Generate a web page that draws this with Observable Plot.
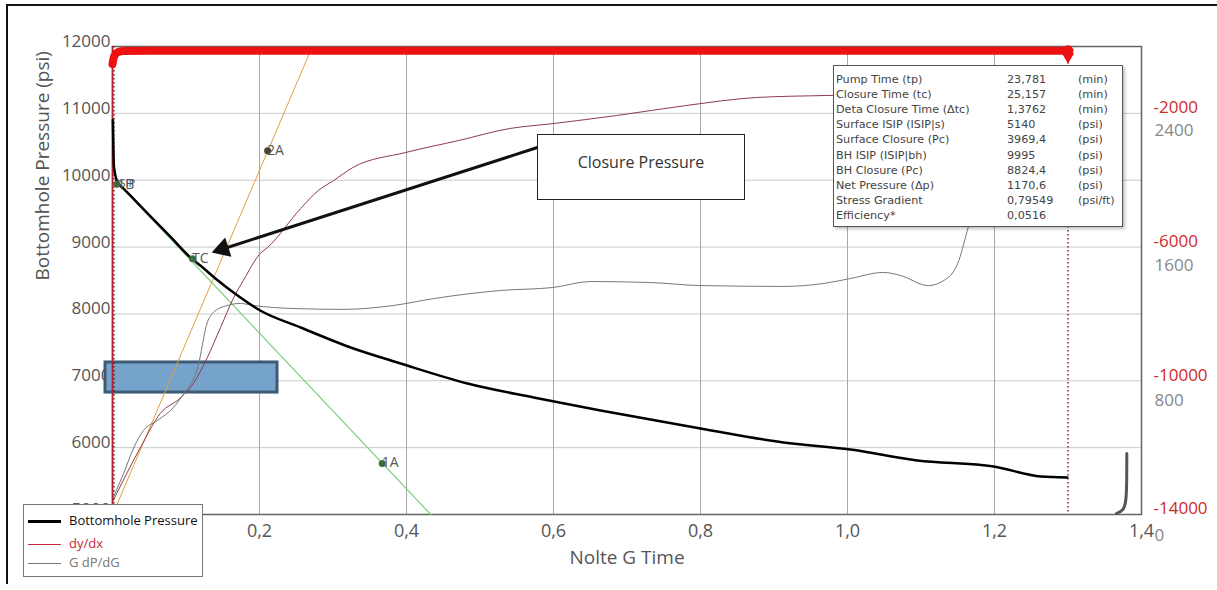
<!DOCTYPE html>
<html>
<head>
<meta charset="utf-8">
<script src="https://cdn.jsdelivr.net/npm/d3@7"></script>
<script src="https://cdn.jsdelivr.net/npm/@observablehq/plot@0.6"></script>
<style>
  body { margin: 0; background: #fff; }
  #wrap { position: relative; width: 1217px; height: 590px; overflow: hidden; font-family: "Open Sans", sans-serif; }
  #outer { position: absolute; left: 6px; top: 4px; width: 1240px; height: 578px; border-left: 2px solid #111; border-top: 2px solid #111; pointer-events: none; }
  #chart { position: absolute; left: 0; top: 0; }
  #legend { position: absolute; left: 23px; top: 504px; width: 180px; height: 73px; background: #fff; border: 1px solid #777; box-sizing: border-box; font-size: 13px; }
  #legend .sw { position: absolute; left: 4px; width: 33px; height: 0; }
  #legend .lt { position: absolute; left: 45px; line-height: 16px; white-space: nowrap; }
  #info { position: absolute; left: 833px; top: 65px; width: 290px; height: 162px; background: #fff; border: 1px solid #555; box-sizing: border-box; box-shadow: 2px 2px 3px rgba(0,0,0,0.25); font-family: "DejaVu Sans", sans-serif; font-size: 11.2px; color: #444; }
  #info .c { position: absolute; white-space: nowrap; line-height: 15px; }
  #closure { position: absolute; left: 537px; top: 134px; width: 208px; height: 66px; background: #fff; border: 1.5px solid #222; box-sizing: border-box; font-size: 16px; color: #333; text-align: center; }
  #closure span { position: absolute; left: 0; right: 0; top: 16px; line-height: 22px; }
</style>
</head>
<body>
<div id="wrap">
  <div id="chart"></div>
  <div id="outer"></div>
  <div id="closure"><span>Closure Pressure</span></div>
  <div id="info"></div>
  <div id="legend"></div>
</div>
<script>
// ---------- data ----------
// Bottomhole pressure (psi) vs Nolte G time
const bhpG = [0.0005, 0.002, 0.007, 0.015, 0.030, 0.052, 0.080, 0.106, 0.120, 0.140, 0.174, 0.201, 0.256, 0.324, 0.392, 0.483, 0.573, 0.664, 0.800, 0.913, 1.004, 1.095, 1.199, 1.263, 1.299];
const bhpP = [10900, 10200, 9966, 9876, 9706, 9457, 9140, 8844, 8720, 8530, 8246, 8051, 7797, 7498, 7259, 6960, 6750, 6556, 6286, 6077, 5972, 5808, 5718, 5568, 5553];

// dP/dG-type curve (maroon), left-axis units
const dpG = [0.001, 0.038, 0.065, 0.093, 0.110, 0.129, 0.147, 0.165, 0.178, 0.201, 0.211, 0.256, 0.280, 0.301, 0.327, 0.399, 0.471, 0.541, 0.600, 0.686, 0.781, 0.876, 0.971, 1.10];
const dpP = [5210, 6002, 6511, 6750, 6959, 7348, 7797, 8246, 8500, 8904, 8994, 9577, 9846, 9996, 10190, 10415, 10594, 10774, 10848, 10968, 11118, 11237, 11267, 11290];

// G dP/dG (gray right axis units)
const gdpG = [0.001, 0.015, 0.029, 0.042, 0.061, 0.083, 0.097, 0.116, 0.129, 0.137, 0.156, 0.174, 0.192, 0.246, 0.314, 0.382, 0.437, 0.528, 0.600, 0.650, 0.732, 0.800, 0.913, 0.967, 1.004, 1.049, 1.072, 1.110, 1.131, 1.150, 1.163, 1.181, 1.201];
const gdpV = [225, 367, 521, 622, 681, 759, 841, 996, 1262, 1321, 1363, 1375, 1363, 1345, 1340, 1363, 1404, 1452, 1470, 1505, 1499, 1481, 1476, 1493, 1523, 1559, 1541, 1481, 1511, 1612, 1807, 2104, 2400];

// dy/dx (red right axis units)
const dydxG = [0, 0.0015, 0.004, 0.008, 0.015, 0.05, 0.4, 0.8, 1.2, 1.30];
const dydxV = [-700, -520, -400, -335, -305, -300, -300, -300, -300, -300];

// straight-line fits
const fit1G = [0.004, 0.433];   const fit1P = [9995, 5000];    // green (1A)
const fit2G = [0.001, 0.268];   const fit2P = [5017, 11900];   // orange (2A)

// picked points
const ptName = ["ISIP", "1B", "TC", "2A", "1A", "2P"];
const ptG    = [0.006, 0.007, 0.109, 0.211, 0.367, 0.001];
const ptP    = [9940, 9930, 8824, 10440, 5763, 5017];

// markers / annotations
const closureLines = [0.002, 1.30];
const boxG = [-0.0095, 0.2245];  const boxP = [6824, 7274];
const arrowG = [0.578, 0.150];   const arrowP = [10489, 8971];
const edgeG = [1.380, 1.380, 1.375, 1.366]; const edgeP = [5913, 5180, 5060, 5015];

// axis ticks
const xTicks = [0.2, 0.4, 0.6, 0.8, 1.0, 1.2, 1.4];
const yTicks = [5000, 6000, 7000, 8000, 9000, 10000, 11000, 12000];
const redTicks = [-2000, -6000, -10000, -14000];
const grayTicks = [0, 800, 1600, 2400];

// info table
const infoLabel = ["Pump Time (tp)", "Closure Time (tc)", "Deta Closure Time (\u0394tc)", "Surface ISIP (ISIP|s)", "Surface Closure (Pc)", "BH ISIP (ISIP|bh)", "BH Closure (Pc)", "Net Pressure (\u0394p)", "Stress Gradient", "Efficiency*"];
const infoValue = ["23,781", "25,157", "1,3762", "5140", "3969,4", "9995", "8824,4", "1170,6", "0,79549", "0,0516"];
const infoUnit  = ["(min)", "(min)", "(min)", "(psi)", "(psi)", "(psi)", "(psi)", "(psi)", "(psi/ft)", ""];

// legend
const legendNames  = ["Bottomhole Pressure", "dy/dx", "G dP/dG"];
const legendColors = ["#000", "#c8283a", "#777"];

// ---------- secondary axis mappings (to left-axis units) ----------
const redToP = v => 12085 + 0.5 * v;
const grayToP = g => 4686 + 2.524 * g;

const zip = (a, b) => a.map((v, i) => ({x: v, y: b[i]}));
const bhp = zip(bhpG, bhpP);
const dp = zip(dpG, dpP);
const gdp = gdpG.map((g, i) => ({x: g, y: grayToP(gdpV[i])}));
const dydx = dydxG.map((g, i) => ({x: g, y: redToP(dydxV[i])}));
const fit1 = zip(fit1G, fit1P);
const fit2 = zip(fit2G, fit2P);
const pts = ptName.map((n, i) => ({name: n, x: ptG[i], y: ptP[i]}));
const arrow = zip(arrowG, arrowP);
const edge = zip(edgeG, edgeP);
const fmtX = d => d.toFixed(1).replace(".", ",");

const font = "Open Sans";
const plot = Plot.plot({
  width: 1217,
  height: 590,
  marginLeft: 112,
  marginRight: 76,
  marginTop: 46,
  marginBottom: 76,
  style: {fontFamily: font, background: "transparent"},
  x: {domain: [0, 1.4]},
  y: {domain: [5000, 12000]},
  marks: [
    Plot.gridY(yTicks, {stroke: "#c9c9c9", strokeOpacity: 1}),
    Plot.gridX([0.2, 0.4, 0.6, 0.8, 1.0, 1.2], {stroke: "#a8a8a8", strokeOpacity: 1}),
    Plot.axisY({ticks: yTicks, tickFormat: d => String(d), tickSize: 0, tickPadding: 2, fontSize: 17, color: "#555", label: null, dy: -5}),
    Plot.axisX({ticks: xTicks, tickFormat: fmtX, tickSize: 0, tickPadding: 10, fontSize: 18, color: "#555", label: null}),
    Plot.rect([0], {x1: boxG[0], x2: boxG[1], y1: boxP[0], y2: boxP[1], fill: "#75a3cb", stroke: "#3e5b75", strokeWidth: 3}),
    Plot.frame({stroke: "#666", strokeWidth: 1.5}),
    Plot.line(edge, {x: "x", y: "y", stroke: "#555", strokeWidth: 3, curve: "basis"}),
    Plot.ruleX([0], {stroke: "#b0202e", strokeWidth: 1.5}),
    Plot.ruleX(closureLines, {stroke: "#5a1010", strokeWidth: 1.3, strokeDasharray: "1.5,2.5"}),
    Plot.line(fit2, {x: "x", y: "y", stroke: "#e0a040", strokeWidth: 1}),
    Plot.line(fit1, {x: "x", y: "y", stroke: "#7fcf7f", strokeWidth: 1.2}),
    Plot.line(dp, {x: "x", y: "y", stroke: "#8e3a4a", strokeWidth: 1, curve: "monotone-x"}),
    Plot.line(gdp, {x: "x", y: "y", stroke: "#777", strokeWidth: 1, curve: "monotone-x"}),
    Plot.line(bhp, {x: "x", y: "y", stroke: "#000", strokeWidth: 2.5, curve: "monotone-x"}),
    Plot.line(dydx, {x: "x", y: "y", stroke: "#ee1111", strokeWidth: 8, curve: "monotone-x"}),
    Plot.dot([dydx[dydx.length - 1]], {x: "x", y: "y", r: 5.5, fill: "#ee1111"}),
    Plot.dot([dydx[dydx.length - 1]], {x: "x", y: "y", r: 4.5, fill: "#ee1111", symbol: "triangle", rotate: 180, dy: 6}),
    Plot.dot(pts.filter(d => d.name !== "1B"), {x: "x", y: "y", r: 3.5, fill: d => d.name === "2A" || d.name === "2P" ? "#4a4636" : "#3d6b3d"}),
    Plot.text(pts, {x: "x", y: "y", text: "name", textAnchor: "start", dx: d => d.name === "ISIP" ? 5 : 6, dy: d => d.name === "ISIP" ? -4 : 6, fontSize: d => d.name === "ISIP" ? 11 : 14, fill: "#555"}),
    Plot.line(arrow, {x: "x", y: "y", stroke: "#111", strokeWidth: 3}),
    Plot.dot([arrow[1]], {x: "x", y: "y", symbol: "triangle", r: 7.5, rotate: 252, fill: "#111"}),
    Plot.text(redTicks, {y: d => redToP(d), text: d => String(d), frameAnchor: "right", dx: 12, textAnchor: "start", fill: "#d02a2a", fontSize: 17}),
    Plot.text(grayTicks, {y: d => grayToP(d), text: d => String(d), frameAnchor: "right", dx: 13, textAnchor: "start", fill: "#888", fontSize: 17}),
    Plot.text(["Bottomhole Pressure (psi)"], {text: d => d, frameAnchor: "left", rotate: -90, dx: -70, fontSize: 19, fill: "#555"}),
    Plot.text(["Nolte G Time"], {text: d => d, frameAnchor: "bottom", dy: 49, fontSize: 19, fill: "#555"})
  ]
});
document.getElementById("chart").appendChild(plot);

// info table
const info = document.getElementById("info");
infoLabel.forEach((t, i) => {
  const top = 6 + i * 15.1;
  [[t, 2], [infoValue[i], 173], [infoUnit[i], 244]].forEach(([s, left]) => {
    const d = document.createElement("div");
    d.className = "c";
    d.style.left = left + "px";
    d.style.top = top + "px";
    d.textContent = s;
    info.appendChild(d);
  });
});

// legend
const legend = document.getElementById("legend");
const rowTop = [16, 39, 58];
legendNames.forEach((n, i) => {
  const sw = document.createElement("div");
  sw.className = "sw";
  sw.style.top = (rowTop[i] - (i === 0 ? 1.5 : 0.5)) + "px";
  sw.style.borderTop = (i === 0 ? 3 : 1) + "px solid " + legendColors[i];
  legend.appendChild(sw);
  const t = document.createElement("div");
  t.className = "lt";
  t.style.top = (rowTop[i] - 9) + "px";
  t.style.color = i === 0 ? "#111" : legendColors[i];
  t.textContent = n;
  legend.appendChild(t);
});
</script>
</body>
</html>
